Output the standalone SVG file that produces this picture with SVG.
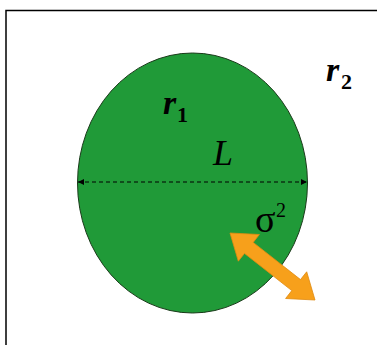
<svg xmlns="http://www.w3.org/2000/svg" width="377" height="345" viewBox="0 0 377 345">
  <style>
    .lbl { font-family: "Liberation Serif", "Times New Roman", serif; fill: #000; }
    .r { font-weight: bold; font-style: italic; }
  </style>
  <defs>
    <marker id="ah" viewBox="0 0 10 10" refX="10" refY="5" markerWidth="6" markerHeight="6" orient="auto-start-reverse" markerUnits="userSpaceOnUse">
      <path d="M0,0 L10,5 L0,10 z" fill="#000"/>
    </marker>
  </defs>
  <rect x="0" y="0" width="377" height="345" fill="#fff"/>
  <rect x="6" y="10.5" width="380" height="345" fill="none" stroke="#000" stroke-width="1.5"/>
  <g id="cell">
    <ellipse cx="192.5" cy="183" rx="115" ry="130" fill="#209a38" stroke="#1a3a1a" stroke-width="1"/>
  </g>
  <g id="connectors">
    <line x1="78" y1="182" x2="307" y2="182" stroke="#000" stroke-width="1.2" stroke-dasharray="4,3" marker-start="url(#ah)" marker-end="url(#ah)"/>
    <polygon points="230,233 238.3,261.2 244.5,253.4 291.8,290.6 285.6,298.5 315,300 306.7,271.8 300.5,279.6 253.2,242.4 259.4,234.5" fill="#f7a01b" stroke="#e08a10" stroke-width="0.8"/>
  </g>
  <g id="r1">
    <text class="lbl r" x="163" y="114" font-size="34">r</text>
    <text class="lbl" x="177" y="122" font-size="22" font-weight="bold">1</text>
  </g>
  <g id="r2">
    <text class="lbl r" x="326" y="81" font-size="34">r</text>
    <text class="lbl" x="341" y="89" font-size="22" font-weight="bold">2</text>
  </g>
  <g id="L">
    <text class="lbl" x="213" y="165" font-size="36" font-style="italic">L</text>
  </g>
  <g id="sigma">
    <text class="lbl" x="255" y="232" font-size="38">σ</text>
    <text class="lbl" x="276" y="217" font-size="20">2</text>
  </g>
</svg>
